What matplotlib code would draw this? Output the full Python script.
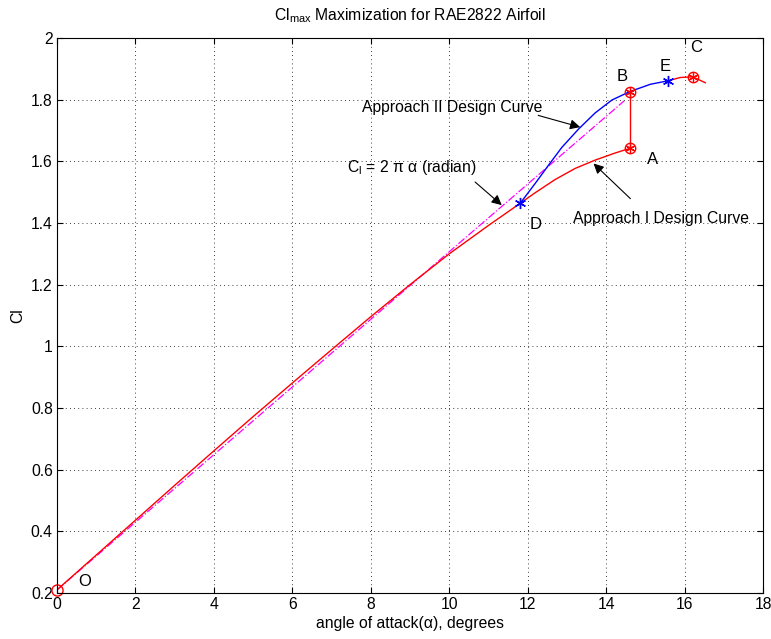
import matplotlib
matplotlib.use("Agg")
import matplotlib.pyplot as plt

plt.rcParams['font.family'] = ['Liberation Sans', 'DejaVu Sans']
plt.rcParams['mathtext.fontset'] = 'custom'
plt.rcParams['mathtext.rm'] = 'Liberation Sans'
plt.rcParams['font.size'] = 11.3

# --- data ---
# Approach I design curve (red), O -> D -> A
red_x = [0, 1, 2, 3, 4, 5, 6, 7, 8, 9, 10, 11, 11.81, 12.19, 12.70, 13.21, 13.72, 14.23, 14.6]
red_y = [0.21, 0.323, 0.436, 0.549, 0.661, 0.772, 0.881, 0.989, 1.096, 1.200,
         1.300, 1.392, 1.464, 1.498, 1.541, 1.577, 1.604, 1.627, 1.642]
# A -> B jump
jump_x = [14.6, 14.6]
jump_y = [1.642, 1.826]
# Approach II design curve (blue), D -> B -> E
blue_x = [11.81, 12.19, 12.53, 12.87, 13.30, 13.72, 14.15, 14.6, 15.13, 15.57]
blue_y = [1.464, 1.528, 1.587, 1.645, 1.705, 1.757, 1.799, 1.826, 1.850, 1.861]
# red tail, E -> C -> end
tail_x = [15.57, 15.89, 16.21, 16.53]
tail_y = [1.861, 1.872, 1.874, 1.855]
# thin airfoil line Cl = 2*pi*alpha
thin_x = [0, 14.46]
thin_y = [0.21, 1.796]

# named points
pts = {'O': (0, 0.21), 'A': (14.6, 1.642), 'B': (14.6, 1.826),
       'C': (16.21, 1.874), 'D': (11.81, 1.464), 'E': (15.57, 1.861)}
label_pos = {'O': (0.54, 0.224), 'D': (12.05, 1.382), 'A': (15.04, 1.593),
             'B': (14.28, 1.861), 'E': (15.36, 1.893), 'C': (16.15, 1.955)}

asterisk = (6, 2, 0)

fig = plt.figure(figsize=(7.71, 6.39), dpi=100)
ax = fig.add_axes([0.0739, 0.072, 0.9157, 0.8685])

ax.plot(thin_x, thin_y, color='magenta', linestyle='-.', lw=0.9)
ax.plot(red_x, red_y, color='red', lw=1.0)
ax.plot(jump_x, jump_y, color='red', lw=1.0)
ax.plot(tail_x, tail_y, color='red', lw=1.0)
ax.plot(blue_x, blue_y, color='blue', lw=1.0)

# markers
ax.plot(*pts['O'], marker='o', ms=8, mfc='none', mec='red', mew=1.0, clip_on=False)
for k in ['A', 'B', 'C']:
    ax.plot(*pts[k], marker='o', ms=7.5, mfc='none', mec='red', mew=1.0)
    ax.plot(*pts[k], marker=asterisk, ms=7, color='red', mew=0.9)
for k in ['D', 'E']:
    ax.plot(*pts[k], marker=asterisk, ms=8, color='blue', mew=1.0)

for k, (lx, ly) in label_pos.items():
    ax.text(lx, ly, k, ha='left', va='baseline', fontsize=12)

# annotations
ax.text(7.77, 1.760, 'Approach II Design Curve', ha='left', va='baseline')
ax.text(7.39, 1.566, r'C$_\mathregular{l}$ = 2 π α (radian)', ha='left', va='baseline')
ax.text(13.15, 1.400, 'Approach I Design Curve', ha='left', va='baseline')
arrow = dict(arrowstyle='-|>', color='k', lw=0.8, mutation_scale=15, shrinkA=0, shrinkB=0)
ax.annotate('', xy=(13.34, 1.711), xytext=(12.27, 1.749), arrowprops=arrow)
ax.annotate('', xy=(11.34, 1.458), xytext=(10.66, 1.533), arrowprops=arrow)
ax.annotate('', xy=(13.68, 1.593), xytext=(14.62, 1.479), arrowprops=arrow)

ax.set_xlim(0, 18)
ax.set_ylim(0.2, 2)
ax.set_xticks(range(0, 19, 2))
yt = [0.2, 0.4, 0.6, 0.8, 1, 1.2, 1.4, 1.6, 1.8, 2]
ax.set_yticks(yt)
ax.set_yticklabels(['%g' % v for v in yt])
ax.tick_params(direction='in', top=True, right=True, length=4, width=0.8, pad=3)
ax.grid(True, color='k', linestyle=(0, (1, 4)), lw=0.6)
for s in ax.spines.values():
    s.set_linewidth(0.8)

ax.set_xlabel('angle of attack(α), degrees', labelpad=3)
ax.set_ylabel('Cl', labelpad=4)
ax.set_title(r'Cl$_\mathregular{max}$ Maximization for RAE2822 Airfoil', fontsize=11.3, pad=13)

fig.savefig('out.png', dpi=100)
